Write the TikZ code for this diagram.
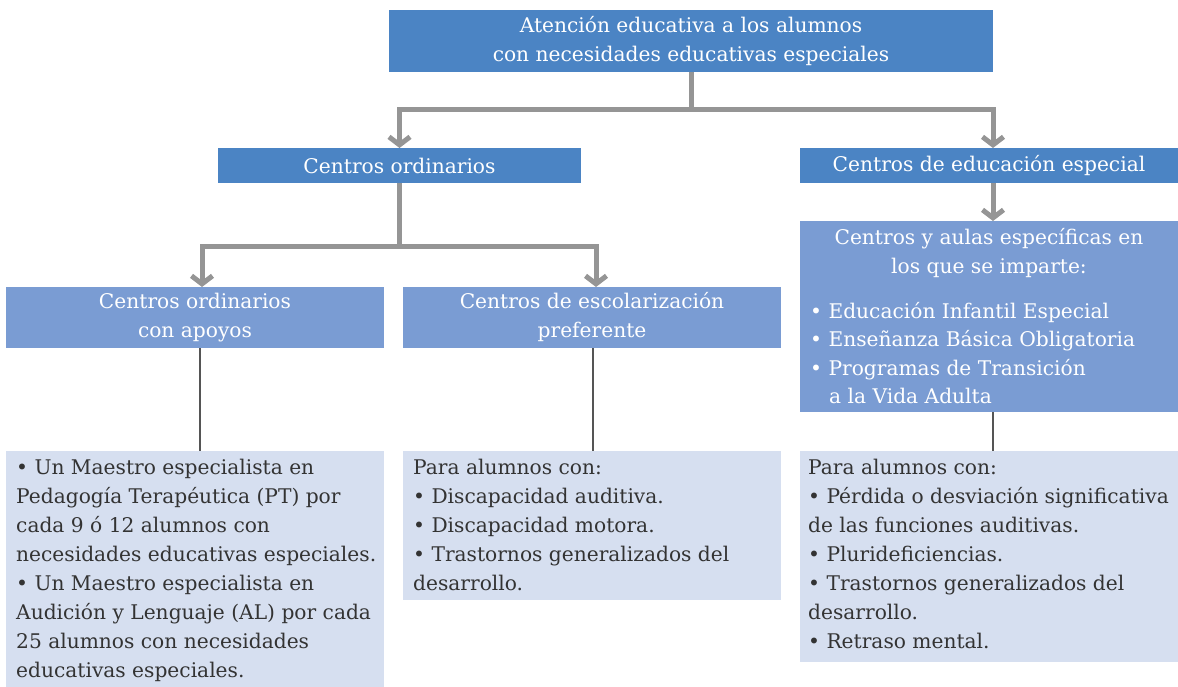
\documentclass[tikz,border=0pt]{standalone}
\usepackage{fontspec}
\setmainfont{DejaVu Serif}
\usetikzlibrary{arrows.meta}
\definecolor{dblue}{HTML}{4B84C4}
\definecolor{mblue}{HTML}{7A9CD3}
\definecolor{lblue}{HTML}{D6DFF0}
\definecolor{conngray}{HTML}{959595}
\definecolor{thingray}{HTML}{555555}
\definecolor{bodytxt}{HTML}{333333}
\begin{document}
\begin{tikzpicture}[x=1pt,y=-1pt,
  box/.style={draw=none,inner sep=0pt,outer sep=0pt,anchor=north west,text=white,align=center,font=\fontsize{20.2}{29}\selectfont},
  conn/.style={draw=conngray,line width=5pt,-{Straight Barb[length=8pt,width=21pt]}},
  link/.style={draw=conngray,line width=5pt},
  thin/.style={draw=thingray,line width=1.5pt},
  ltxt/.style={inner sep=0pt,anchor=base west,text=bodytxt,font=\fontsize{20.2}{29}\selectfont},
  wtxt/.style={inner sep=0pt,anchor=base west,text=white,font=\fontsize{20.2}{29}\selectfont}]
\useasboundingbox (0,0) rectangle (1178,687);

% boxes
\node[box,fill=dblue,minimum width=604pt,minimum height=62pt] (top) at (389,10)
  {Atención educativa a los alumnos\\con necesidades educativas especiales};
\node[box,fill=dblue,minimum width=363pt,minimum height=35pt] (co) at (218,148) {Centros ordinarios};
\node[box,fill=dblue,minimum width=378pt,minimum height=35pt] (cee) at (800,148) {Centros de educación especial};
\node[box,fill=mblue,minimum width=378pt,minimum height=61pt] (apoyos) at (6,287) {Centros ordinarios\\con apoyos};
\node[box,fill=mblue,minimum width=378pt,minimum height=61pt] (pref) at (403,287) {Centros de escolarización\\preferente};
\node[box,fill=mblue,minimum width=378pt,minimum height=191pt] (aulas) at (800,221) {};
\node[box,fill=lblue,minimum width=378pt,minimum height=236pt] (bl) at (6,451) {};
\node[box,fill=lblue,minimum width=378pt,minimum height=149pt] (bm) at (403,451) {};
\node[box,fill=lblue,minimum width=378pt,minimum height=211pt] (br) at (800,451) {};

% text of aulas box
\node[box,anchor=north,inner sep=0pt] (aulash) at (989,228) {Centros y aulas específicas en\\los que se imparte:};
\foreach \t [count=\i] in {{• Educación Infantil Especial},{• Enseñanza Básica Obligatoria},{• Programas de Transición}}
  \node[wtxt] (au\i) at (810,{318+28.5*(\i-1)}) {\t};
\node[wtxt] (au4) at (829,403) {a la Vida Adulta};

% bottom texts
\foreach \t [count=\i] in {{• Un Maestro especialista en},{Pedagogía Terapéutica (PT) por},{cada 9 ó 12 alumnos con},{necesidades educativas especiales.},{• Un Maestro especialista en},{Audición y Lenguaje (AL) por cada},{25 alumnos con necesidades},{educativas especiales.}}
  \node[ltxt] (bl\i) at (16,{474+29*(\i-1)}) {\t};
\foreach \t [count=\i] in {{Para alumnos con:},{• Discapacidad auditiva.},{• Discapacidad motora.},{• Trastornos generalizados del},{desarrollo.}}
  \node[ltxt] (bm\i) at (413,{474+29*(\i-1)}) {\t};
\foreach \t [count=\i] in {{Para alumnos con:},{• Pérdida o desviación significativa},{de las funciones auditivas.},{• Pluridefi{}ciencias.},{• Trastornos generalizados del},{desarrollo.},{• Retraso mental.}}
  \node[ltxt] (br\i) at (808,{474+29*(\i-1)}) {\t};

% connectors
\draw[link] (top.south) -- ++(0,38) coordinate (j1);
\draw[conn] (j1) -| (co.north);
\draw[conn] (j1) -| ([xshift=4pt]cee.north);
\draw[link] (co.south) -- ++(0,64) coordinate (j2);
\draw[conn] (j2) -| ([xshift=7pt]apoyos.north);
\draw[conn] (j2) -| ([xshift=4pt]pref.north);
\draw[conn] ([xshift=4pt]cee.south) -- ([xshift=4pt]aulas.north);
\draw[thin] ([xshift=5pt]apoyos.south) -- ([xshift=5pt]bl.north);
\draw[thin] ([xshift=1pt]pref.south) -- ([xshift=1pt]bm.north);
\draw[thin] ([xshift=4pt]aulas.south) -- ([xshift=4pt]br.north);
\end{tikzpicture}
\end{document}
